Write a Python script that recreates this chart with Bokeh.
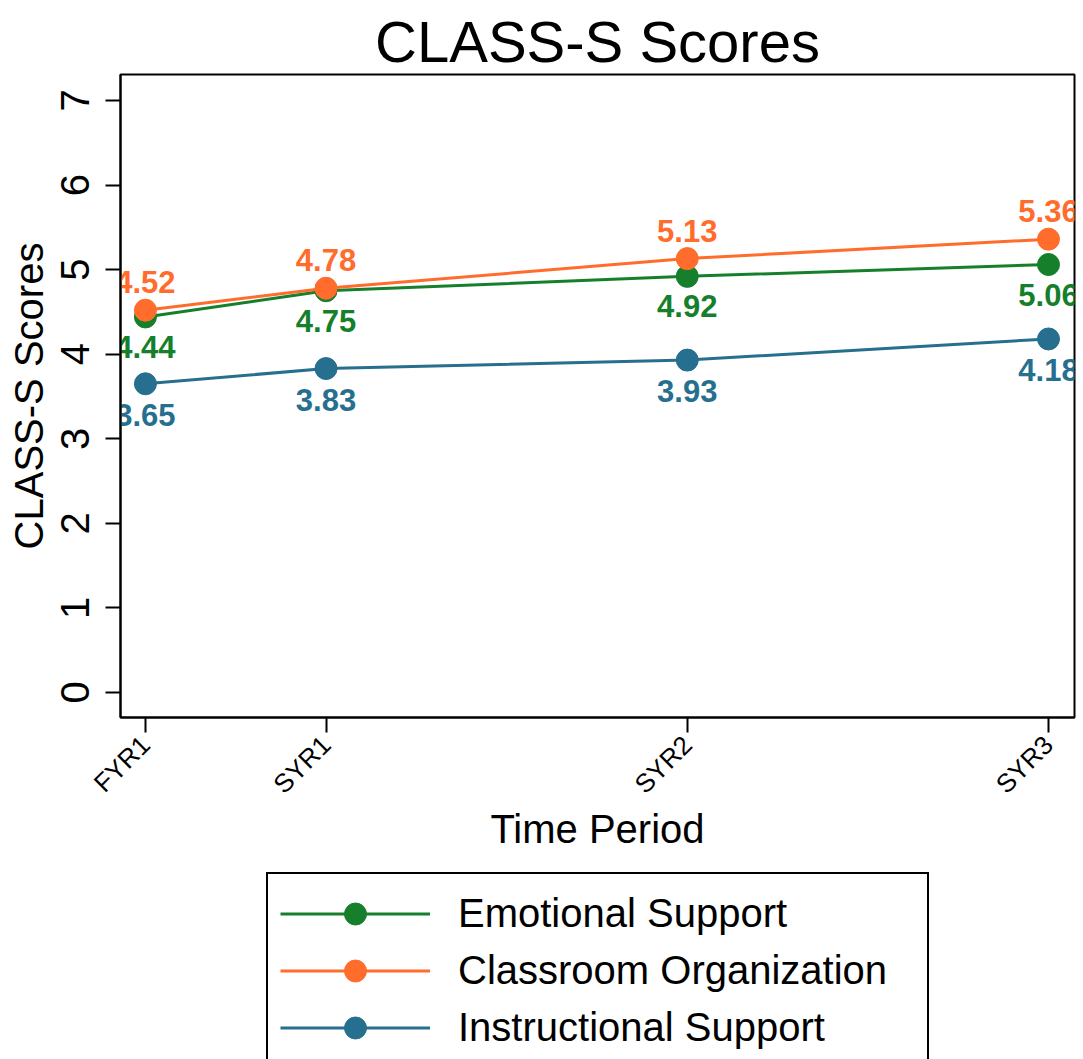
import math
from bokeh.plotting import figure
from bokeh.layouts import column
from bokeh.models import Range1d, FixedTicker, Legend, LegendItem, ColumnDataSource
from bokeh.core.properties import value
from bokeh.embed import file_html
from bokeh.resources import INLINE

# ---- data ----
periods = ["FYR1", "SYR1", "SYR2", "SYR3"]
time_pos = [0, 1, 3, 5]
emotional = [4.44, 4.75, 4.92, 5.06]
classroom = [4.52, 4.78, 5.13, 5.36]
instructional = [3.65, 3.83, 3.93, 4.18]
series_names = ["Emotional Support", "Classroom Organization", "Instructional Support"]
y_ticks = [0, 1, 2, 3, 4, 5, 6, 7]

FONT = "Liberation Sans"
GREEN = "#167f2b"
ORANGE = "#ff6c2c"
BLUE = "#266f8f"
COLORS = [GREEN, ORANGE, BLUE]
SERIES = [emotional, classroom, instructional]

p = figure(frame_width=954, frame_height=643, output_backend="svg", toolbar_location=None,
           x_range=Range1d(-0.138, 5.144), y_range=Range1d(-0.296, 7.307),
           min_border_left=120, min_border_right=9, min_border_top=74, min_border_bottom=152)

p.title.text = "CLASS-S Scores"
p.title.align = "center"
p.title.text_font = FONT
p.title.text_font_size = "58px"
p.title.text_font_style = "normal"
p.title.text_color = "black"
p.title.standoff = 2

p.xgrid.visible = False
p.ygrid.visible = False
p.outline_line_color = "black"
p.outline_line_width = 2
p.outline_line_alpha = 1.0
p.background_fill_color = "white"
p.border_fill_color = "white"

# axes
xa = p.xaxis[0]
xa.ticker = FixedTicker(ticks=time_pos)
xa.major_label_overrides = {t: lab for t, lab in zip(time_pos, periods)}
xa.major_label_orientation = math.pi / 4
xa.major_label_text_font = FONT
xa.major_label_text_font_size = "26px"
xa.major_label_text_color = "black"
xa.major_label_standoff = 8
xa.axis_label = "Time Period"
xa.axis_label_text_font = FONT
xa.axis_label_text_font_size = "40px"
xa.axis_label_text_font_style = "normal"
xa.axis_label_text_color = "black"
xa.axis_label_standoff = -6
xa.minor_tick_line_color = None
xa.major_tick_out = 15
xa.major_tick_in = 0
xa.major_tick_line_width = 2
xa.major_tick_line_color = "black"
xa.axis_line_width = 2
xa.axis_line_color = "black"

ya = p.yaxis[0]
ya.ticker = FixedTicker(ticks=y_ticks)
ya.major_label_orientation = "parallel"
ya.major_label_text_font = FONT
ya.major_label_text_font_size = "40px"
ya.major_label_text_color = "black"
ya.major_label_standoff = 16
ya.axis_label = "CLASS-S Scores"
ya.axis_label_text_font = FONT
ya.axis_label_text_font_size = "40px"
ya.axis_label_text_font_style = "normal"
ya.axis_label_text_color = "black"
ya.axis_label_standoff = 8
ya.minor_tick_line_color = None
ya.major_tick_out = 15
ya.major_tick_in = 0
ya.major_tick_line_width = 2
ya.major_tick_line_color = "black"
ya.axis_line_width = 2
ya.axis_line_color = "black"

for vals, col, yoff in [(emotional, GREEN, 30), (classroom, ORANGE, -28), (instructional, BLUE, 31)]:
    src = ColumnDataSource(dict(x=time_pos, y=vals, lab=[f"{v:.2f}" for v in vals]))
    p.line("x", "y", source=src, line_color=col, line_width=3)
    p.scatter("x", "y", source=src, size=22, fill_color=col, line_color=col)
    p.text("x", "y", text="lab", source=src, text_color=col, text_font=value(FONT),
           text_font_style="bold", text_font_size="31px", text_align="center",
           text_baseline="middle", y_offset=yoff)

# ---- legend panel below the chart (its ranges keep the series out of view) ----
p2 = figure(frame_width=1083, frame_height=190, output_backend="svg", toolbar_location=None,
            x_range=Range1d(100, 101), y_range=Range1d(100, 101), x_axis_type=None, y_axis_type=None,
            min_border=0, min_border_left=0, min_border_right=0, min_border_top=0,
            min_border_bottom=0)
p2.xgrid.visible = False
p2.ygrid.visible = False
p2.outline_line_color = None
p2.background_fill_color = "white"
p2.border_fill_color = "white"

items = []
for name, col, vals in zip(series_names, COLORS, SERIES):
    src = ColumnDataSource(dict(x=time_pos, y=vals))
    lr = p2.line("x", "y", source=src, line_color=col, line_width=3)
    sr = p2.scatter("x", "y", source=src, size=22, fill_color=col, line_color=col)
    items.append(LegendItem(label=name, renderers=[lr, sr]))

legend = Legend(items=items, location=(266, -10), orientation="vertical",
                label_text_font=FONT, label_text_font_size="40px", label_text_color="black",
                glyph_width=150, glyph_height=55, label_height=55, label_width=457,
                spacing=2, label_standoff=28, padding=12, margin=0,
                border_line_color="black", border_line_width=2, border_line_alpha=1.0,
                background_fill_color="white", background_fill_alpha=1.0)
p2.add_layout(legend, "center")

layout = column(p, p2, spacing=0)
open("out.html", "w").write(file_html(layout, INLINE))
